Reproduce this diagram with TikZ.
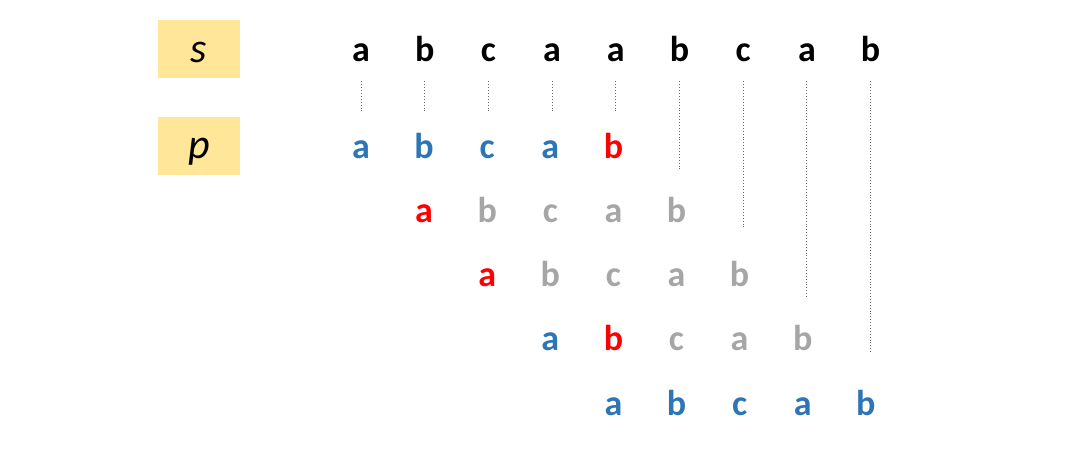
\documentclass[tikz,border=0pt]{standalone}
\usepackage{fontspec}
\setmainfont{Carlito}
\usetikzlibrary{positioning,calc}
\definecolor{pblue}{HTML}{2E75B6}
\definecolor{pred}{HTML}{FF0000}
\definecolor{pgray}{HTML}{A6A6A6}
\definecolor{lblfill}{HTML}{FFE699}
\tikzset{
  lbl/.style={fill=lblfill, minimum width=41pt, minimum height=29pt, inner sep=0pt,
    text height=13pt, text depth=0pt, font=\fontsize{21}{21}\selectfont\itshape},
  chr/.style={inner sep=0pt, text height=9pt, text depth=0pt,
    font=\fontsize{18}{18}\selectfont\bfseries},
  guide/.style={draw=black!60, densely dotted, line width=0.45pt}
}
\begin{document}
\begin{tikzpicture}[x=0.5pt,y=-0.5pt]
\useasboundingbox (0,0) rectangle (1080,461);
% labels
\node[lbl] (ls) at (199,49) {s};
\node[lbl] (lp) at (199,145.5) {p};
% text s
\foreach \c [count=\i] in {a,b,c,a,a,b,c,a,b}
  \node[chr] (s\i) at ({361+63.7*(\i-1)},52) {\c};
% shifts of p
\foreach \r/\ca/\cb/\cc/\cd/\ce in {0/pblue/pblue/pblue/pblue/pred,
    1/pred/pgray/pgray/pgray/pgray, 2/pred/pgray/pgray/pgray/pgray,
    3/pblue/pred/pgray/pgray/pgray, 4/pblue/pblue/pblue/pblue/pblue}
  \foreach \ch/\col [count=\j] in {a/\ca,b/\cb,c/\cc,a/\cd,b/\ce}
    \node[chr, text=\col] (p\r-\j) at ({361+63.1*(\r+\j-1)},{149+64.3*\r}) {\ch};
% guide lines
\foreach \i/\y in {1/113,2/113,3/113,4/113,5/113,6/171,7/229,8/298,9/352}{
  \coordinate (e\i) at ($(s\i)+(0,\y-52)$);
  \draw[guide] ([yshift=-10pt]s\i.south) -- (e\i);
}
\end{tikzpicture}
\end{document}
